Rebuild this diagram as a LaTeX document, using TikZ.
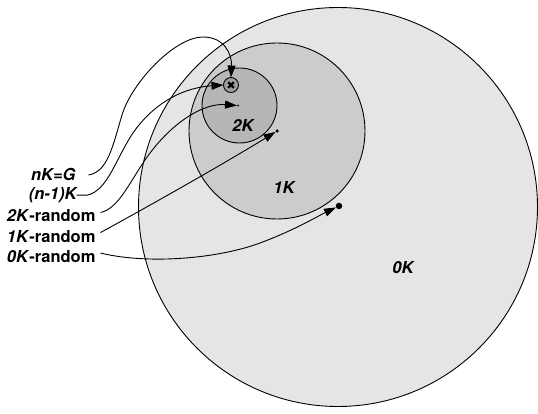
\documentclass[tikz,border=0pt]{standalone}
\usepackage{fontspec}
\setmainfont{TeX Gyre Heros}
\usetikzlibrary{arrows.meta}
\definecolor{gzero}{HTML}{E5E5E5}
\definecolor{gone}{HTML}{CCCCCC}
\definecolor{gtwo}{HTML}{B6B6B6}
\definecolor{gn}{HTML}{9E9E9E}
\begin{document}
\begin{tikzpicture}[x=1pt,y=-1pt,
  ring/.style={circle,draw=black,line width=0.9pt,inner sep=0pt,outer sep=0pt},
  dotnode/.style={circle,fill=black,inner sep=0pt,outer sep=0pt},
  lbl/.style={inner sep=0pt,outer sep=0pt,font=\fontsize{16.5}{18}\selectfont\bfseries},
  conn/.style={line width=0.9pt,-{Triangle[length=12pt,width=8pt]}},
  plainconn/.style={line width=0.9pt}]
\useasboundingbox (0,0) rectangle (538,414);
% circles
\node[ring,fill=gzero,minimum size=399pt] (c0) at (338,207) {};
\node[ring,fill=gone,minimum size=176pt] (c1) at (277,131) {};
\node[ring,fill=gtwo,minimum size=75pt] (c2) at (239.5,105.5) {};
\node[ring,fill=gn,minimum size=15pt] (nG) at (231,85) {};
\draw[line width=2.2pt] ([shift={(-2.8,-2.8)}]nG.center) -- ([shift={(2.8,2.8)}]nG.center);
\draw[line width=2.2pt] ([shift={(-2.8,2.8)}]nG.center) -- ([shift={(2.8,-2.8)}]nG.center);
% dots
\node[dotnode,minimum size=6.5pt] (d0) at (339,206) {};
\node[dotnode,minimum size=3.5pt] (d1) at (277,131) {};
\node[dotnode,minimum size=2pt] (d2) at (238,105.5) {};
% circle labels
\node[lbl] (t2) at (243,125) {\itshape 2K};
\node[lbl] (t1) at (284,187) {\itshape 1K};
\node[lbl] (t0) at (403,268) {\itshape 0K};
% left labels
\node[lbl,anchor=base east] (lA) at (75.5,181) {\itshape nK=G};
\node[lbl,anchor=base east] (lB) at (76.5,199.5) {\itshape (n-1)K};
\node[lbl,anchor=base east] (lC) at (95.5,222) {\textit{2K}-random};
\node[lbl,anchor=base east] (lD) at (95.5,242) {\textit{1K}-random};
\node[lbl,anchor=base east] (lE) at (95.5,262) {\textit{0K}-random};
% connectors
\draw[conn] ([xshift=13pt]lA.east) .. controls (108,172) and (113,145) .. (122,115)
   .. controls (132,82) and (175,37) .. (203,37)
   .. controls (225,37) and (232,55) .. (nG.north);
\draw[conn] (lB.east) -- ++(11,0) .. controls (108,190) and (115,160) .. (133,133)
   .. controls (150,108) and (178,88) .. (nG.west);
\draw[conn] ([shift={(5,-3.5)}]lC.east) .. controls (120,208) and (130,180) .. (150,153)
   .. controls (175,120) and (205,103) .. (d2.west);
\draw[conn] ([shift={(5,-3.5)}]lD.east) .. controls (160,200) and (230,160) .. (d1);
\draw[conn] ([shift={(5,-3)}]lE.east) .. controls (150,265) and (220,258) .. (260,243)
   .. controls (295,230) and (318,216) .. (d0);
\end{tikzpicture}
\end{document}
